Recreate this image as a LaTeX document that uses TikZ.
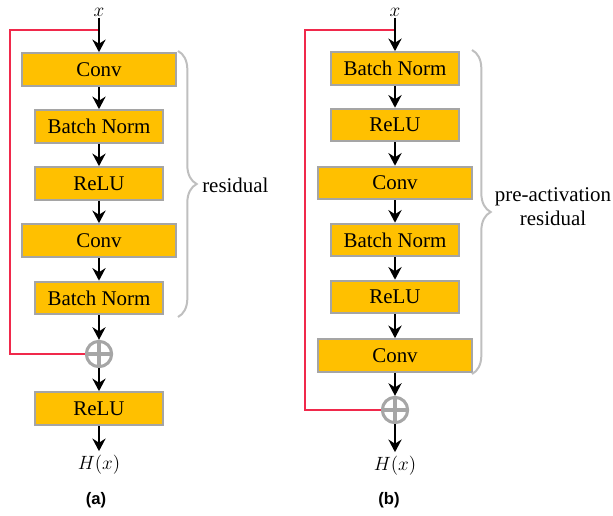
\documentclass[tikz,border=0pt]{standalone}
\usepackage{fontspec}
\setmainfont{Liberation Serif}
\newfontfamily\capfont{Liberation Sans}
\usetikzlibrary{arrows.meta,decorations.pathreplacing}
\definecolor{boxfill}{HTML}{FFC000}
\definecolor{boxline}{HTML}{A5A5A5}
\definecolor{skipred}{HTML}{F0294B}
\definecolor{bracegray}{HTML}{BFBFBF}
\definecolor{sumgray}{HTML}{A6A6A6}
\begin{document}
\begin{tikzpicture}[x=0.75pt,y=-0.75pt,
  layer/.style={draw=boxline,fill=boxfill,line width=1.5pt,inner sep=0pt,
    minimum height=24.5pt,font=\fontsize{15.7}{18}\selectfont},
  wide/.style={layer,minimum width=115.5pt},
  narrow/.style={layer,minimum width=96pt},
  flow/.style={draw=black,line width=1pt,-{Stealth[length=9.5pt,width=10pt,inset=3.2pt]}},
  skip/.style={draw=skipred,line width=1.5pt},
  sum/.style={circle,draw=sumgray,fill=white,line width=2.3pt,minimum size=19pt,inner sep=0pt},
  plus/.style={draw=sumgray,line width=2.3pt,shorten >=1.2pt,shorten <=1.2pt},
  brc/.style={draw=bracegray,line width=1.5pt,decorate,decoration={brace,amplitude=14pt}},
  var/.style={inner sep=1pt,font=\fontsize{15}{17}\selectfont},
  txt/.style={font=\fontsize{15.7}{18}\selectfont},
  sublabel/.style={font=\capfont\bfseries\fontsize{12.5}{15}\selectfont}]

\useasboundingbox (0,0) rectangle (613,516);

% ---------- (a) original residual block ----------
\node[var] (xa) at (99,12) {$x$};
\node[wide]   (a1) at (99,69.5)  {Conv};
\node[narrow] (a2) at (99,126.5) {Batch Norm};
\node[narrow] (a3) at (99,183.5) {ReLU};
\node[wide]   (a4) at (99,240.5) {Conv};
\node[narrow] (a5) at (99,298)   {Batch Norm};
\node[sum]    (sa) at (99,354)   {};
\draw[plus] (sa.north) -- (sa.south) (sa.west) -- (sa.east);
\node[narrow] (a6) at (99,408.5) {ReLU};
\node[var] (ha) at (99,465) {$H(x)$};
\node[sublabel] (la) at (96,500) {(a)};

\coordinate (ta) at (99,30);
\draw[skip] (ta) -- ++(-89,0) |- (sa.west);

\draw[flow] (xa) -- (a1);
\foreach \u/\v in {a1/a2,a2/a3,a3/a4,a4/a5,a5/sa,sa/a6}
  \draw[flow] (\u) -- (\v);
\draw[flow,shorten >=2pt] (a6) -- (ha);

\draw[brc] (178,51) -- (178,317);
\node[txt,anchor=west,inner sep=0pt] (ra) at (202,185) {residual};

% ---------- (b) pre-activation residual block ----------
\node[var] (xb) at (395,12) {$x$};
\node[narrow] (b1) at (395,68.5)  {Batch Norm};
\node[narrow] (b2) at (395,125)   {ReLU};
\node[wide]   (b3) at (395,183)   {Conv};
\node[narrow] (b4) at (395,240)   {Batch Norm};
\node[narrow] (b5) at (395,297)   {ReLU};
\node[wide]   (b6) at (395,355.5) {Conv};
\node[sum]    (sb) at (395,410)   {};
\draw[plus] (sb.north) -- (sb.south) (sb.west) -- (sb.east);
\node[var] (hb) at (395,466) {$H(x)$};
\node[sublabel] (lb) at (389,500) {(b)};

\coordinate (tb) at (395,30);
\draw[skip] (tb) -- ++(-90,0) |- (sb.west);

\draw[flow] (xb) -- (b1);
\foreach \u/\v in {b1/b2,b2/b3,b3/b4,b4/b5,b5/b6,b6/sb}
  \draw[flow] (\u) -- (\v);
\draw[flow,shorten >=2pt] (sb) -- (hb);

\draw[brc] (472,50) -- (472,374);
\node[txt,align=center,inner sep=0pt] (rb) at (553,207) {pre-activation\\residual};

\end{tikzpicture}
\end{document}
